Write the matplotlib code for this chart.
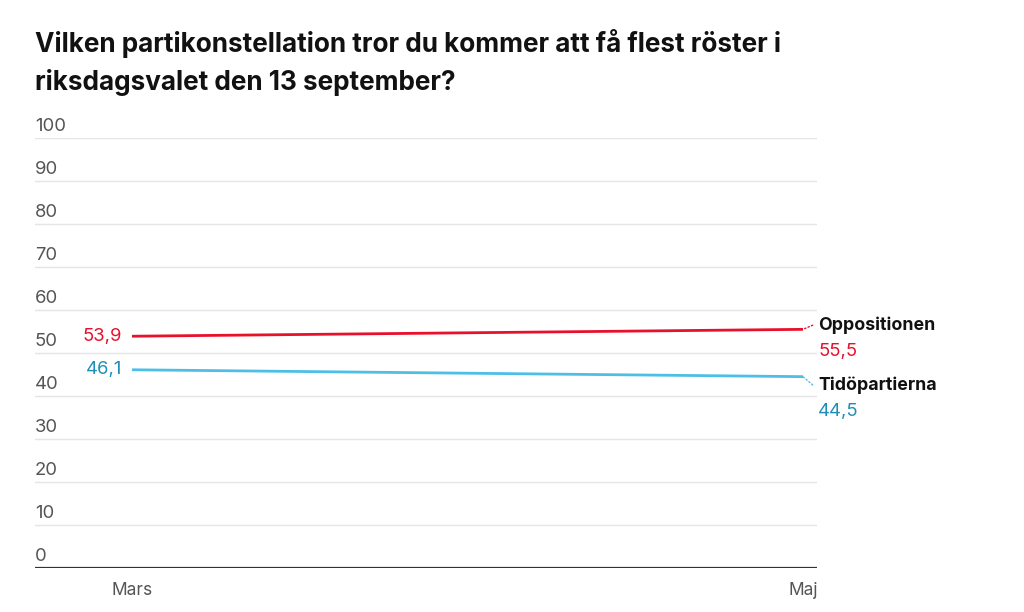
import matplotlib
matplotlib.use('Agg')
import matplotlib.pyplot as plt
from matplotlib.transforms import offset_copy

plt.rcParams['font.family'] = ['Inter', 'DejaVu Sans']

title = "Vilken partikonstellation tror du kommer att få flest röster i\nriksdagsvalet den 13 september?"
months = ["Mars", "Maj"]
opposition = [53.9, 55.5]
tido = [46.1, 44.5]
series_names = ["Oppositionen", "Tidöpartierna"]
yticks = [0, 10, 20, 30, 40, 50, 60, 70, 80, 90, 100]

RED = '#e8112d'
BLUE_LINE = '#4dbfe6'
BLUE_TXT = '#1f8fb8'

fig = plt.figure(figsize=(10.24, 6.12), dpi=100)
ax = fig.add_axes([35/1024, 1-568/612, (817-35)/1024, (568-138)/612])
x = list(range(len(months)))
ax.set_xlim(-(132-35)/671, 1+(817-803)/671)
ax.set_ylim(0, 100)

for t in yticks:
    if t > 0:
        ax.axhline(t, color='#e5e5e5', lw=1, zorder=0)
    ax.text(0, t, str(t), transform=offset_copy(ax.get_yaxis_transform(), fig=fig, x=0, y=3, units='dots'),
            ha='left', va='bottom', fontsize=13.3, color='#555555')
ax.axhline(0, color='#333333', lw=1.6, zorder=1)

ax.plot(x, opposition, color=RED, lw=2, solid_capstyle='butt')
ax.plot(x, tido, color=BLUE_LINE, lw=2, solid_capstyle='butt')

fmt = lambda v: f"{v:.1f}".replace('.', ',')
ax.annotate(fmt(opposition[0]), (x[0], opposition[0]), xytext=(-7, 0), textcoords='offset points',
            ha='right', va='center', fontsize=13.3, color=RED)
ax.annotate(fmt(tido[0]), (x[0], tido[0]), xytext=(-7, 0), textcoords='offset points',
            ha='right', va='center', fontsize=13.3, color=BLUE_TXT)

# end labels with small connectors
for vals, name, lc, tc, dy in [(opposition, series_names[0], RED, RED, 3),
                               (tido, series_names[1], BLUE_LINE, BLUE_TXT, -6)]:
    ax.annotate('', xy=(x[1], vals[1]), xytext=(7, dy), textcoords='offset points',
                arrowprops=dict(arrowstyle='-', color=lc, lw=1, ls=':', shrinkA=0, shrinkB=0))
    ax.annotate(name, (x[1], vals[1]), xytext=(11, dy), textcoords='offset points',
                ha='left', va='center', fontsize=12.8, fontweight='bold', color='#111111')
    ax.annotate(fmt(vals[1]), (x[1], vals[1]), xytext=(11, dy-19), textcoords='offset points',
                ha='left', va='center', fontsize=13.3, color=tc)

ax.set_xticks(x)
ax.set_xticklabels(months, fontsize=12.5, color='#555555')
ax.tick_params(axis='x', length=0, pad=10)
ax.set_yticks([])
for s in ax.spines.values():
    s.set_visible(False)
ax.patch.set_alpha(0)

fig.text(35/1024, 1-29/612, title, ha='left', va='top', fontsize=18.8, fontweight='bold',
         color='#111111', linespacing=1.5)

fig.savefig('out.png', dpi=100)
